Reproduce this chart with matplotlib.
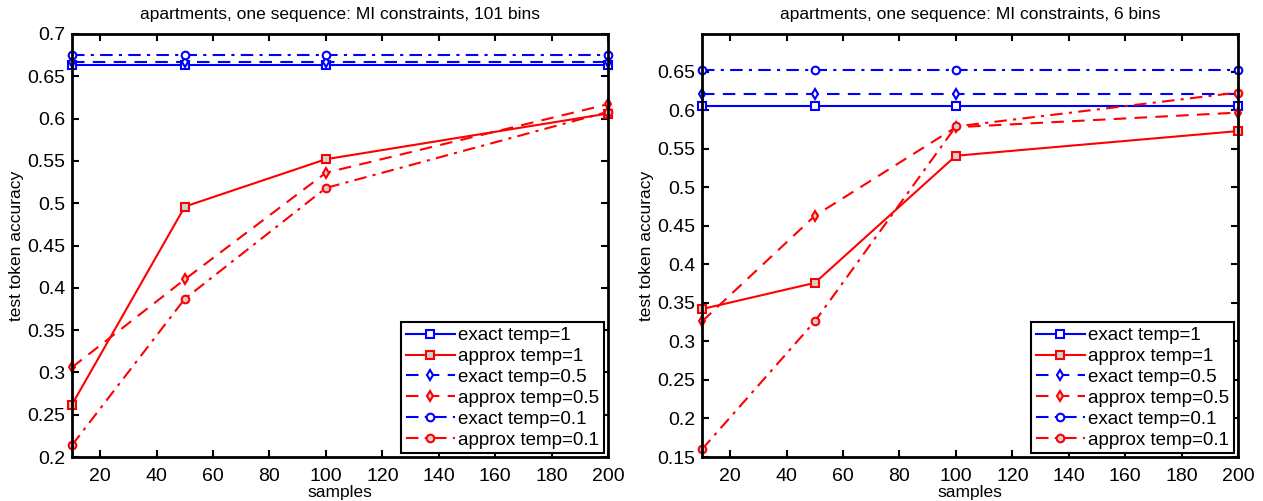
import matplotlib
matplotlib.use('Agg')
import matplotlib.pyplot as plt
import numpy as np

plt.rcParams['font.family'] = ['Liberation Sans', 'DejaVu Sans']

samples = [10, 50, 100, 200]

# 101 bins panel
exact_t1_101 = [0.663, 0.663, 0.663, 0.663]
approx_t1_101 = [0.262, 0.496, 0.552, 0.606]
exact_t05_101 = [0.667, 0.667, 0.667, 0.667]
approx_t05_101 = [0.306, 0.410, 0.536, 0.617]
exact_t01_101 = [0.675, 0.675, 0.675, 0.675]
approx_t01_101 = [0.214, 0.387, 0.518, 0.608]

# 6 bins panel
exact_t1_6 = [0.605, 0.605, 0.605, 0.605]
approx_t1_6 = [0.342, 0.376, 0.541, 0.573]
exact_t05_6 = [0.621, 0.621, 0.621, 0.621]
approx_t05_6 = [0.326, 0.463, 0.578, 0.597]
exact_t01_6 = [0.652, 0.652, 0.652, 0.652]
approx_t01_6 = [0.160, 0.326, 0.579, 0.623]

labels = ['exact temp=1', 'approx temp=1', 'exact temp=0.5',
          'approx temp=0.5', 'exact temp=0.1', 'approx temp=0.1']

titles = ['apartments, one sequence: MI constraints, 101 bins',
          'apartments, one sequence: MI constraints, 6 bins']

panels = [
    [exact_t1_101, approx_t1_101, exact_t05_101, approx_t05_101, exact_t01_101, approx_t01_101],
    [exact_t1_6, approx_t1_6, exact_t05_6, approx_t05_6, exact_t01_6, approx_t01_6],
]

styles = [
    ('blue', '-', 's', 'white'),
    ('red', '-', 's', '#d0d0d0'),
    ('blue', (0, (6, 4)), 'd', 'white'),
    ('red', (0, (6, 4)), 'd', '#d0d0d0'),
    ('blue', (0, (6, 3, 1.5, 3)), 'o', 'white'),
    ('red', (0, (6, 3, 1.5, 3)), 'o', '#d0d0d0'),
]

ylims = [(0.2, 0.7), (0.15, 0.699)]
yticks = [np.arange(0.2, 0.701, 0.05), np.arange(0.15, 0.651, 0.05)]

W, H = 1263, 501
fig = plt.figure(figsize=(W / 100, H / 100), dpi=100)
lefts = [72, 702]
for i in range(2):
    ax = fig.add_axes([lefts[i] / W, (H - 457) / H, 536 / W, 423 / H])
    for series, lab, (c, ls, mk, fc) in zip(panels[i], labels, styles):
        ax.plot(samples, series, color=c, linestyle=ls, marker=mk, markersize=5.5,
                markerfacecolor=fc, markeredgecolor=c, markeredgewidth=1.5,
                linewidth=1.5, label=lab, clip_on=False)
    ax.set_xlim(10, 200)
    ax.set_ylim(*ylims[i])
    ax.set_xticks(range(20, 201, 20))
    ax.set_yticks(yticks[i])
    ax.set_yticklabels(['%g' % round(v, 2) for v in yticks[i]])
    ax.tick_params(direction='in', top=True, right=True, length=5, width=1.5,
                   labelsize=14, pad=5)
    ax.tick_params(axis='x', pad=8)
    for s in ax.spines.values():
        s.set_linewidth(2)
    ax.set_title(titles[i], fontsize=12.5, pad=11)
    ax.set_xlabel('samples', fontsize=12.5, labelpad=0)
    ax.set_ylabel('test token accuracy', fontsize=12.5, labelpad=2)
    leg = ax.legend(loc='lower right', fontsize=13.5, fancybox=False, framealpha=1,
                    edgecolor='black', handlelength=2.6, labelspacing=0.2,
                    borderaxespad=0.2, handletextpad=0.2, borderpad=0.25)
    leg.get_frame().set_linewidth(1.5)

fig.savefig('out.png', dpi=100)
